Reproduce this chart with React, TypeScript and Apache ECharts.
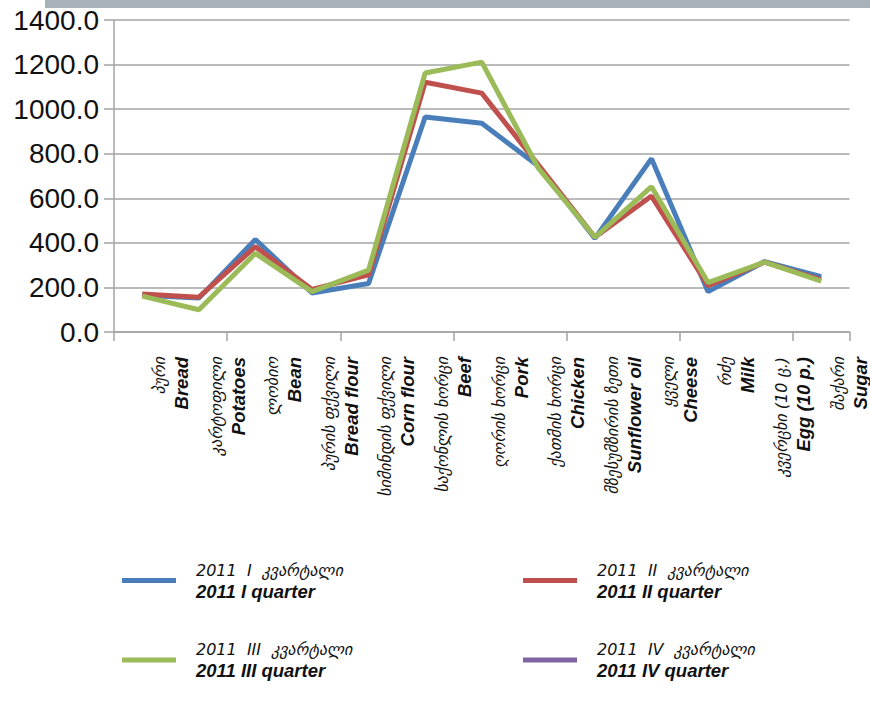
import React, { useEffect, useRef } from "react";
import * as echarts from "echarts";

const categoriesEn = ["Bread", "Potatoes", "Bean", "Bread flour", "Corn flour", "Beef", "Pork", "Chicken", "Sunflower oil", "Cheese", "Milk", "Egg (10 p.)", "Sugar"];
const categoriesKa = ["პური", "კარტოფილი", "ლობიო", "პურის ფქვილი", "სიმინდის ფქვილი", "საქონლის ხორცი", "ღორის ხორცი", "ქათმის ხორცი", "მზესუმზირის ზეთი", "ყველი", "რძე", "კვერცხი (10 ც.)", "შაქარი"];

const seriesNames = ["2011 I quarter", "2011 II quarter", "2011 III quarter", "2011 IV quarter"];
const seriesNamesKa = ["2011  I  კვარტალი", "2011  II  კვარტალი", "2011  III  კვარტალი", "2011  IV  კვარტალი"];
const seriesColors = ["#4a7ebb", "#c0504d", "#9bbb59", "#8064a2"];

const q1 = [165, 152, 415, 175, 218, 965, 937, 745, 420, 778, 181, 316, 248];
const q2 = [170, 156, 383, 191, 256, 1121, 1072, 750, 425, 610, 208, 314, 234];
const q3 = [161, 100, 353, 181, 278, 1162, 1211, 735, 425, 652, 222, 314, 228];
const q4: number[] = [];

const yTicks = { min: 0, max: 1400, interval: 200 };

export default function App() {
  const ref = useRef<HTMLDivElement>(null);
  useEffect(() => {
    if (!ref.current) return;
    const chart = echarts.init(ref.current, null, { renderer: "svg" });
    const kaByName: Record<string, string> = {};
    seriesNames.forEach((n, i) => (kaByName[n] = seriesNamesKa[i]));
    const gridColor = "#a3a3a3";
    const legendRich = {
      g: { fontFamily: "DejaVu Sans", fontStyle: "italic", fontSize: 16, color: "#111", lineHeight: 21, padding: [0, 0, 0, 15] },
      e: { fontFamily: "Liberation Sans", fontStyle: "italic", fontWeight: "bold", fontSize: 18.5, color: "#111", lineHeight: 21, padding: [0, 0, 0, 15] },
    };
    const legendCommon = {
      orient: "vertical",
      top: 557,
      itemWidth: 54,
      itemHeight: 5,
      itemGap: 41,
      icon: "rect",
      formatter: (name: string) => `{g|${kaByName[name]}}\n{e|${name}}`,
      textStyle: { rich: legendRich },
    };
    const dataSets = [q1, q2, q3, q4];
    chart.setOption({
      animation: false,
      backgroundColor: "#ffffff",
      graphic: [
        { type: "rect", shape: { x: 45, y: 0, width: 825, height: 8 }, style: { fill: "#a6b2b7" } },
      ],
      grid: { left: 114, right: 20, top: 20, bottom: 372, containLabel: false },
      legend: [
        { ...legendCommon, left: 117, data: [seriesNames[0], seriesNames[2]] },
        { ...legendCommon, left: 518, data: [seriesNames[1], seriesNames[3]] },
      ],
      xAxis: [
        {
          type: "category",
          data: categoriesEn,
          boundaryGap: true,
          axisLine: { show: true, lineStyle: { color: gridColor, width: 1.5 } },
          axisTick: { show: true, length: 9, lineStyle: { color: gridColor, width: 1.5 } },
          axisLabel: { show: false },
          splitLine: { show: false },
        },
        {
          type: "category",
          position: "bottom",
          data: ["", ...categoriesEn],
          boundaryGap: false,
          axisLine: { show: false },
          axisTick: { show: false },
          splitLine: { show: false },
          axisLabel: {
            interval: 0,
            rotate: 90,
            margin: 25,
            formatter: (v: string, i: number) => (i === 0 ? "" : `{g|${categoriesKa[i - 1]}}\n{e|${v}}`),
            rich: {
              g: { fontFamily: "DejaVu Sans", fontStyle: "italic", fontSize: 16, color: "#111", lineHeight: 22 },
              e: { fontFamily: "Liberation Sans", fontStyle: "italic", fontWeight: "bold", fontSize: 18.5, color: "#111", lineHeight: 22 },
            },
          },
        },
      ],
      yAxis: {
        type: "value",
        min: yTicks.min,
        max: yTicks.max,
        interval: yTicks.interval,
        axisLine: { show: true, lineStyle: { color: gridColor, width: 1.5 } },
        axisTick: { show: true, length: 10, lineStyle: { color: gridColor, width: 1.5 } },
        splitLine: { show: true, lineStyle: { color: gridColor, width: 1.5 } },
        axisLabel: {
          margin: 15,
          fontFamily: "Liberation Sans",
          fontSize: 28,
          color: "#111",
          formatter: (v: number) => v.toFixed(1),
        },
      },
      series: seriesNames.map((name, i) => ({
        name,
        type: "line",
        xAxisIndex: 0,
        data: dataSets[i],
        symbol: "none",
        color: seriesColors[i],
        lineStyle: { width: 5, color: seriesColors[i] },
      })),
    });
    return () => chart.dispose();
  }, []);
  return <div ref={ref} style={{ position: "fixed", left: 0, top: 0, width: 870, height: 704 }} />;
}
